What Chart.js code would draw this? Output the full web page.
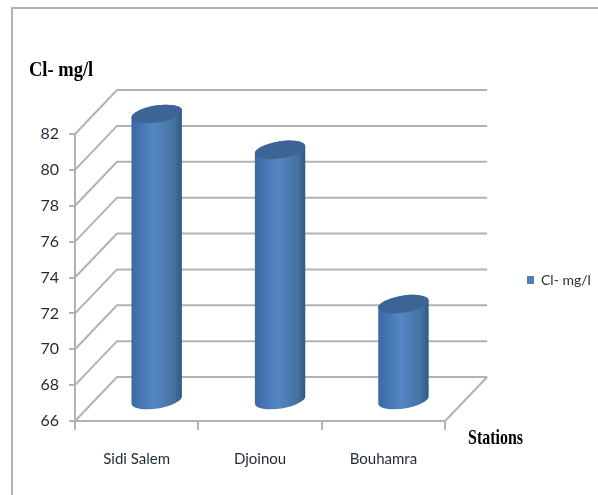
<!DOCTYPE html>
<html>
<head>
<meta charset="utf-8">
<style>
  html, body { margin: 0; padding: 0; background: #fff; }
  #wrap { width: 598px; height: 495px; }
</style>
<script src="https://cdn.jsdelivr.net/npm/chart.js@4/dist/chart.umd.min.js"></script>
</head>
<body>
<div id="wrap"><canvas id="chlorideChart"></canvas></div>
<script>
const stations = ['Sidi Salem', 'Djoinou', 'Bouhamra'];
const chlorideValues = [82, 80, 71.4];
const seriesName = 'Cl- mg/l';
const yAxisName = 'Cl- mg/l';
const xAxisName = 'Stations';

const axisMin = 66;
const axisMax = 82;

const wallColor = '#b2b2b2';
const textColor = '#1f2a36';
const labelFont = 'Lato';

// 3d look: the bar stands half way into the floor
const wallDx = 42, wallDy = -44;
const barDx = 20, barDy = -20;
const capRy = 8.5, capTilt = -9 * Math.PI / 180;

class CylinderBar extends Chart.BarElement {
  static id = 'cylinderBar';

  draw(ctx) {
    const { x, y, base, width } = this.getProps(['x', 'y', 'base', 'width'], true);
    const cx = x + barDx, rx = width / 2;
    const top = y + barDy, bottom = base + barDy;

    const body = ctx.createLinearGradient(cx - rx, 0, cx + rx, 0);
    body.addColorStop(0, '#3a69a4');
    body.addColorStop(0.45, '#5486c6');
    body.addColorStop(0.85, '#44719f');
    body.addColorStop(1, '#2d5787');

    ctx.save();
    ctx.beginPath();
    ctx.ellipse(cx, bottom, rx, capRy, capTilt, 0, Math.PI);
    ctx.ellipse(cx, top, rx, capRy, capTilt, Math.PI, 2 * Math.PI);
    ctx.closePath();
    ctx.fillStyle = body;
    ctx.fill();

    ctx.beginPath();
    ctx.ellipse(cx, top, rx, capRy, capTilt, 0, 2 * Math.PI);
    ctx.fillStyle = '#3c6596';
    ctx.fill();
    ctx.restore();
  }
}

class CylinderController extends Chart.BarController {
  static id = 'cylinder';
  static defaults = { ...Chart.BarController.defaults, dataElementType: 'cylinderBar' };
  static overrides = Chart.BarController.overrides;
}

Chart.register(CylinderBar, CylinderController);

// axis names are squeezed sideways in the original
function squeezedText(ctx, text, x, y, size, squeeze) {
  ctx.save();
  ctx.translate(x, y);
  ctx.scale(squeeze, 1);
  ctx.font = 'bold ' + size + 'px "Liberation Serif"';
  ctx.fillText(text, 0, 0);
  ctx.restore();
}

const chartDressing = {
  id: 'chartDressing',
  afterLayout(chart) {
    // legend sits off the middle of the plot in the original
    chart.legend.left = 517;
    chart.legend.right = 598;
    chart.legend.top = 268;
    chart.legend.bottom = 292;
  },
  beforeDatasetsDraw(chart) {
    const { ctx, chartArea, scales } = chart;
    const { left, right, bottom } = chartArea;

    ctx.save();
    ctx.strokeStyle = wallColor;
    ctx.lineWidth = 2;

    // outer frame
    ctx.beginPath();
    ctx.moveTo(12, 495);
    ctx.lineTo(12, 8);
    ctx.lineTo(598, 8);
    ctx.stroke();

    // side wall and back wall lines
    scales.y.ticks.forEach(t => {
      const py = scales.y.getPixelForValue(t.value);
      ctx.beginPath();
      ctx.moveTo(left, py);
      ctx.lineTo(left + wallDx, py + wallDy);
      ctx.lineTo(right + wallDx, py + wallDy);
      ctx.stroke();
    });

    // floor edge on the right
    ctx.beginPath();
    ctx.moveTo(right, bottom);
    ctx.lineTo(right + wallDx, bottom + wallDy);
    ctx.stroke();
    ctx.restore();
  },
  afterDraw(chart) {
    const { ctx } = chart;
    ctx.save();
    ctx.fillStyle = '#000';
    ctx.textBaseline = 'middle';
    squeezedText(ctx, yAxisName, 29, 71, 21, 0.88);
    squeezedText(ctx, xAxisName, 468, 439, 21, 0.76);
    ctx.restore();
  }
};

new Chart(document.getElementById('chlorideChart'), {
  type: 'cylinder',
  data: {
    labels: stations,
    datasets: [{
      label: seriesName,
      data: chlorideValues,
      base: axisMin,
      backgroundColor: '#4f81bd',
      barThickness: 51,
      clip: false
    }]
  },
  plugins: [chartDressing],
  options: {
    responsive: true,
    maintainAspectRatio: false,
    animation: false,
    layout: { padding: { top: 134, right: 69, bottom: 0, left: 0 } },
    plugins: {
      tooltip: { enabled: false },
      title: { display: false },
      legend: {
        display: true,
        position: 'right',
        labels: {
          boxWidth: 7,
          boxHeight: 8,
          color: textColor,
          font: { family: labelFont, size: 14 }
        }
      }
    },
    scales: {
      x: {
        type: 'category',
        offset: true,
        grid: { drawOnChartArea: false, offset: true, tickLength: 9, color: wallColor, lineWidth: 2 },
        border: { color: wallColor, width: 2 },
        ticks: { color: textColor, padding: 20, font: { family: labelFont, size: 15 } },
        afterFit(scale) { scale.height = 74; }
      },
      y: {
        type: 'linear',
        min: axisMin,
        max: axisMax,
        grid: { drawOnChartArea: false, tickLength: 6, color: wallColor, lineWidth: 2 },
        border: { color: wallColor, width: 2 },
        ticks: { stepSize: 2, color: textColor, padding: 10, font: { family: labelFont, size: 16 } },
        afterFit(scale) { scale.width = 75; }
      }
    }
  }
});
</script>
</body>
</html>
